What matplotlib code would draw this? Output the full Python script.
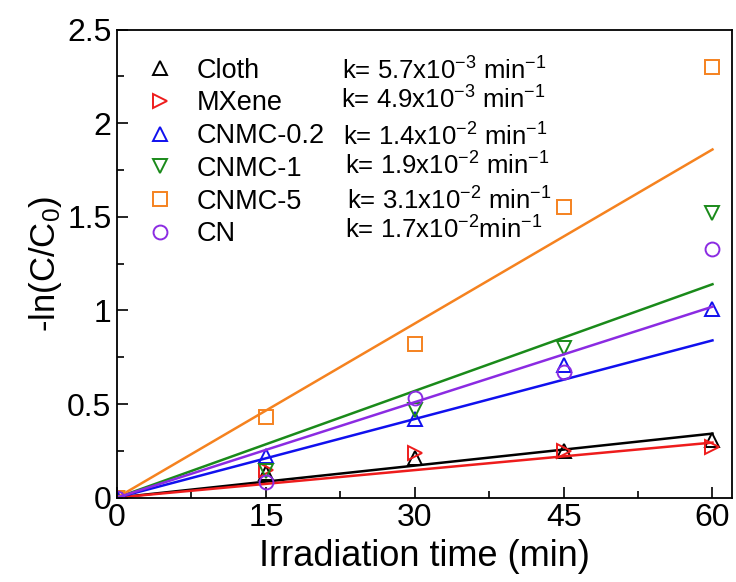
import matplotlib.pyplot as plt
import numpy as np
from matplotlib.lines import Line2D
from matplotlib.ticker import MultipleLocator

plt.rcParams['font.family'] = ['Liberation Sans', 'DejaVu Sans']
plt.rcParams['mathtext.default'] = 'regular'

# irradiation time (min)
time = [0, 15, 30, 45, 60]

# -ln(C/C0) for each sample
cloth = [0, 0.13, 0.21, 0.25, 0.31]
mxene = [0, 0.145, 0.24, 0.25, 0.27]
cnmc02 = [0, 0.22, 0.42, 0.71, 1.01]
cnmc1 = [0, 0.14, 0.47, 0.80, 1.52]
cnmc5 = [0, 0.43, 0.82, 1.55, 2.30]
cn = [0, 0.085, 0.53, 0.67, 1.33]

# first-order rate constants (min^-1)
k_values = [5.7e-3, 4.9e-3, 1.4e-2, 1.9e-2, 3.1e-2, 1.7e-2]
k_labels = [r'k= 5.7x10$^{-3}$ min$^{-1}$', r'k= 4.9x10$^{-3}$ min$^{-1}$',
            r'k= 1.4x10$^{-2}$ min$^{-1}$', r'k= 1.9x10$^{-2}$ min$^{-1}$',
            r'k= 3.1x10$^{-2}$ min$^{-1}$', r'k= 1.7x10$^{-2}$min$^{-1}$']

names = ['Cloth', 'MXene', 'CNMC-0.2', 'CNMC-1', 'CNMC-5', 'CN']
series = [cloth, mxene, cnmc02, cnmc1, cnmc5, cn]
colors = ['black', '#ee1c1c', '#1010ee', '#1a8a1a', '#f5821f', '#8b2be2']
markers = ['^', '>', '^', 'v', 's', 'o']

fig = plt.figure(figsize=(7.36, 5.82), dpi=100)
ax = fig.add_axes([0.159, 0.145, 0.836, 0.804])

t_fit = np.array([0, 60])
for vals, k, c, m in zip(series, k_values, colors, markers):
    ax.plot(time, vals, linestyle='none', marker=m, markersize=10,
            markerfacecolor='none', markeredgecolor=c, markeredgewidth=1.4)
    ax.plot(t_fit, k * t_fit, color=c, linewidth=1.8)

ax.set_xlim(0, 62)
ax.set_ylim(0, 2.5)
ax.xaxis.set_major_locator(MultipleLocator(15))
ax.xaxis.set_minor_locator(MultipleLocator(7.5))
ax.yaxis.set_minor_locator(MultipleLocator(0.25))
ax.set_yticks([0, 0.5, 1, 1.5, 2, 2.5])
ax.set_yticklabels(['0', '0.5', '1', '1.5', '2', '2.5'])
ax.tick_params(which='major', direction='in', length=8, width=1.2, labelsize=23, pad=4)
ax.tick_params(which='minor', direction='in', length=5, width=1.2)
for s in ax.spines.values():
    s.set_linewidth(1.3)

ax.set_xlabel('Irradiation time (min)', fontsize=26, labelpad=4)
ax.set_ylabel('-ln(C/C$_0$)', fontsize=25, labelpad=2)

handles = [Line2D([], [], linestyle='none', marker=m, markersize=10,
                  markerfacecolor='none', markeredgecolor=c, markeredgewidth=1.4)
           for c, m in zip(colors, markers)]
ax.legend(handles, names, loc='upper left', bbox_to_anchor=(0.013, 0.981),
          frameon=False, fontsize=19.5, handlelength=1.2, handletextpad=0.75,
          labelspacing=0.25, borderaxespad=0.3)

k_y = [0.894, 0.831, 0.752, 0.690, 0.615, 0.553]
k_x = [0.366, 0.364, 0.368, 0.371, 0.373, 0.371]
for x, y, lab in zip(k_x, k_y, k_labels):
    ax.text(x, y, lab, transform=ax.transAxes, fontsize=18.5, va='baseline', ha='left')

plt.savefig('out.png', dpi=100)
